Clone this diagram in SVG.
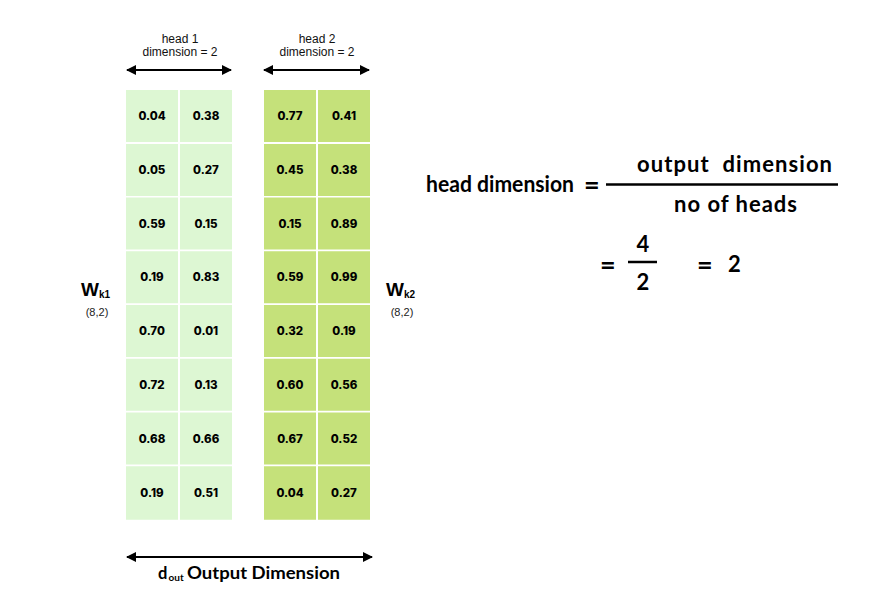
<svg xmlns="http://www.w3.org/2000/svg" width="873" height="609" viewBox="0 0 873 609">
<defs>
<marker id="ah" viewBox="0 0 10 10" refX="9" refY="5" markerWidth="10" markerHeight="10" markerUnits="userSpaceOnUse" orient="auto-start-reverse">
<path d="M0,0 L10,5 L0,10 z" fill="#000"/>
</marker>
<style>
.c1{fill:#ddf7d3}
.c2{fill:#c5e17a}
.n{font-family:Inter,"Liberation Sans",sans-serif;font-weight:800;font-size:11.5px;text-anchor:middle;fill:#000}
.s{font-family:"Liberation Sans",Arial,sans-serif;font-size:12px;text-anchor:middle;fill:#111}
.p{font-family:"Liberation Sans",Arial,sans-serif;font-size:11px;text-anchor:middle;fill:#222}
.eq{font-family:Lato,"Open Sans",sans-serif;font-weight:700;font-size:22px;fill:#000}
.eqe{font-family:Lato,"Open Sans",sans-serif;font-weight:700;font-size:27px;fill:#000}
.eqs{font-family:Lato,"Open Sans",sans-serif;font-weight:700;font-size:10px;fill:#000}
.eqm{font-family:Lato,"Open Sans",sans-serif;font-weight:700;font-size:16.5px;fill:#000}
.w{font-family:"Liberation Sans",Arial,sans-serif;font-weight:700;fill:#000}
.ln{stroke:#000;stroke-width:2;fill:none}
</style>
</defs>
<rect width="873" height="609" fill="#fff"/>
<g id="connectors">
<line class="ln" x1="127" y1="70" x2="231" y2="70" marker-start="url(#ah)" marker-end="url(#ah)"/>
<line class="ln" x1="264" y1="70" x2="369" y2="70" marker-start="url(#ah)" marker-end="url(#ah)"/>
<line class="ln" x1="127" y1="557" x2="372" y2="557" marker-start="url(#ah)" marker-end="url(#ah)"/>
</g>
<g id="labels">
<text class="s" x="180" y="43">head 1</text>
<text class="s" x="180" y="56">dimension = 2</text>
<text class="s" x="317" y="43">head 2</text>
<text class="s" x="317" y="56">dimension = 2</text>
<text class="eqm" x="158" y="579">d</text>
<text class="eqs" x="168.5" y="581">out</text>
<text class="eqm" x="187" y="579" textLength="153" lengthAdjust="spacingAndGlyphs">Output Dimension</text>
</g>
<g id="wk1">
<text class="w" x="81" y="296" font-size="19px">W<tspan font-size="10px" dy="2">k1</tspan></text>
<text class="p" x="97" y="316">(8,2)</text>
</g>
<g id="wk2">
<text class="w" x="386" y="296" font-size="19px">W<tspan font-size="10px" dy="2">k2</tspan></text>
<text class="p" x="402" y="316">(8,2)</text>
</g>
<g id="matrix1">
<rect class="c1" x="126" y="90" width="52" height="52"/><text class="n" x="152" y="120">0.04</text>
<rect class="c1" x="180" y="90" width="52" height="52"/><text class="n" x="206" y="120">0.38</text>
<rect class="c1" x="126" y="144" width="52" height="52"/><text class="n" x="152" y="174">0.05</text>
<rect class="c1" x="180" y="144" width="52" height="52"/><text class="n" x="206" y="174">0.27</text>
<rect class="c1" x="126" y="197.5" width="52" height="52"/><text class="n" x="152" y="227.5">0.59</text>
<rect class="c1" x="180" y="197.5" width="52" height="52"/><text class="n" x="206" y="227.5">0.15</text>
<rect class="c1" x="126" y="251.25" width="52" height="52"/><text class="n" x="152" y="281.25">0.19</text>
<rect class="c1" x="180" y="251.25" width="52" height="52"/><text class="n" x="206" y="281.25">0.83</text>
<rect class="c1" x="126" y="305" width="52" height="52"/><text class="n" x="152" y="335">0.70</text>
<rect class="c1" x="180" y="305" width="52" height="52"/><text class="n" x="206" y="335">0.01</text>
<rect class="c1" x="126" y="358.75" width="52" height="52"/><text class="n" x="152" y="388.75">0.72</text>
<rect class="c1" x="180" y="358.75" width="52" height="52"/><text class="n" x="206" y="388.75">0.13</text>
<rect class="c1" x="126" y="412.5" width="52" height="52"/><text class="n" x="152" y="442.5">0.68</text>
<rect class="c1" x="180" y="412.5" width="52" height="52"/><text class="n" x="206" y="442.5">0.66</text>
<rect class="c1" x="126" y="466.25" width="52" height="53.5"/><text class="n" x="152" y="497">0.19</text>
<rect class="c1" x="180" y="466.25" width="52" height="53.5"/><text class="n" x="206" y="497">0.51</text>
</g>
<g id="matrix2">
<rect class="c2" x="264" y="90" width="52" height="52"/><text class="n" x="290" y="120">0.77</text>
<rect class="c2" x="318" y="90" width="52" height="52"/><text class="n" x="344" y="120">0.41</text>
<rect class="c2" x="264" y="144" width="52" height="52"/><text class="n" x="290" y="174">0.45</text>
<rect class="c2" x="318" y="144" width="52" height="52"/><text class="n" x="344" y="174">0.38</text>
<rect class="c2" x="264" y="197.5" width="52" height="52"/><text class="n" x="290" y="227.5">0.15</text>
<rect class="c2" x="318" y="197.5" width="52" height="52"/><text class="n" x="344" y="227.5">0.89</text>
<rect class="c2" x="264" y="251.25" width="52" height="52"/><text class="n" x="290" y="281.25">0.59</text>
<rect class="c2" x="318" y="251.25" width="52" height="52"/><text class="n" x="344" y="281.25">0.99</text>
<rect class="c2" x="264" y="305" width="52" height="52"/><text class="n" x="290" y="335">0.32</text>
<rect class="c2" x="318" y="305" width="52" height="52"/><text class="n" x="344" y="335">0.19</text>
<rect class="c2" x="264" y="358.75" width="52" height="52"/><text class="n" x="290" y="388.75">0.60</text>
<rect class="c2" x="318" y="358.75" width="52" height="52"/><text class="n" x="344" y="388.75">0.56</text>
<rect class="c2" x="264" y="412.5" width="52" height="52"/><text class="n" x="290" y="442.5">0.67</text>
<rect class="c2" x="318" y="412.5" width="52" height="52"/><text class="n" x="344" y="442.5">0.52</text>
<rect class="c2" x="264" y="466.25" width="52" height="53.5"/><text class="n" x="290" y="497">0.04</text>
<rect class="c2" x="318" y="466.25" width="52" height="53.5"/><text class="n" x="344" y="497">0.27</text>
</g>
<g id="equation">
<text class="eq" x="426" y="192" textLength="148" lengthAdjust="spacingAndGlyphs">head dimension</text>
<text class="eqe" x="584" y="194">=</text>
<text class="eq" x="637" y="172" textLength="195" lengthAdjust="spacing" xml:space="preserve">output  dimension</text>
<line x1="606" y1="184.5" x2="838" y2="184.5" stroke="#000" stroke-width="2.5"/>
<text class="eq" x="674" y="212" textLength="123" lengthAdjust="spacing">no of heads</text>
<text class="eqe" x="600" y="274">=</text>
<text class="eq" x="643" y="252" text-anchor="middle">4</text>
<line x1="628" y1="262" x2="657" y2="262" stroke="#000" stroke-width="2.5"/>
<text class="eq" x="643" y="290" text-anchor="middle">2</text>
<text class="eqe" x="697" y="274">=</text>
<text class="eq" x="728" y="272">2</text>
</g>
</svg>
